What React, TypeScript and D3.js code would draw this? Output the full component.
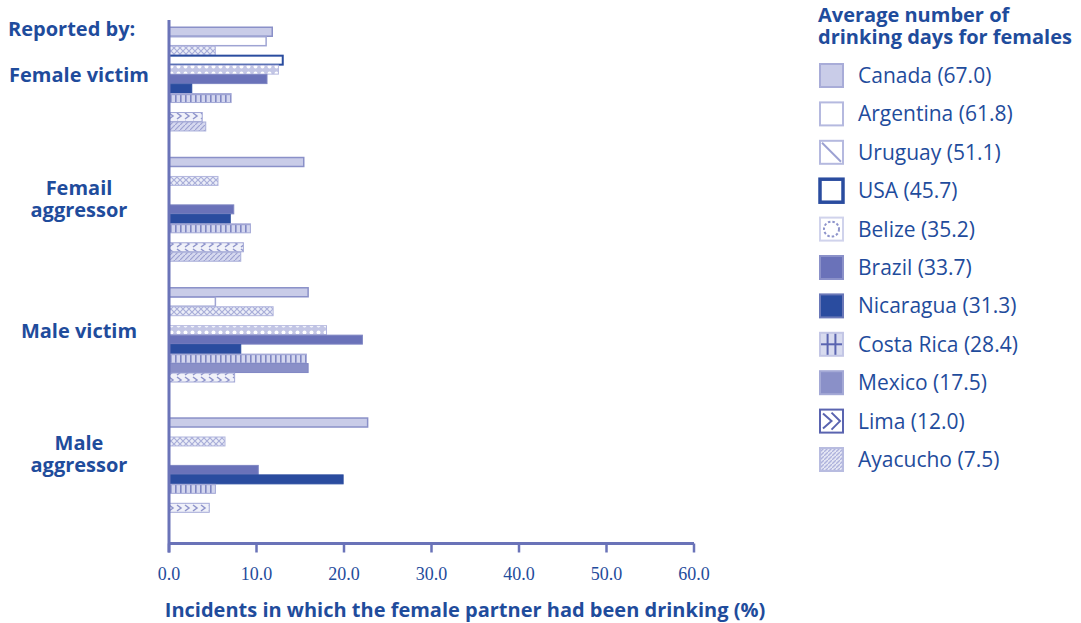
import React from "react";
import * as d3 from "d3";

const countries = ["Canada", "Argentina", "Uruguay", "USA", "Belize", "Brazil", "Nicaragua", "Costa Rica", "Mexico", "Lima", "Ayacucho"];
const avgDays = [67.0, 61.8, 51.1, 45.7, 35.2, 33.7, 31.3, 28.4, 17.5, 12.0, 7.5];
const groups = ["Female victim", "Femail aggressor", "Male victim", "Male aggressor"];
const groupLines = [["Female victim"], ["Femail", "aggressor"], ["Male victim"], ["Male", "aggressor"]];
// values per country, in group order (0 = no bar)
const canada = [11.8, 15.4, 15.9, 22.7];
const argentina = [11.1, 0, 5.3, 0];
const uruguay = [5.3, 5.6, 11.9, 6.4];
const usa = [13.0, 0, 0, 0];
const belize = [12.5, 0, 18.0, 0];
const brazil = [11.2, 7.4, 22.1, 10.2];
const nicaragua = [2.6, 7.0, 8.2, 19.9];
const costaRica = [7.1, 9.3, 15.7, 5.3];
const mexico = [0, 0, 15.9, 0];
const lima = [3.8, 8.5, 7.5, 4.6];
const ayacucho = [4.2, 8.2, 0, 0];
const seriesValues = [canada, argentina, uruguay, usa, belize, brazil, nicaragua, costaRica, mexico, lima, ayacucho];
const xTicks = [0, 10, 20, 30, 40, 50, 60];

const TEXT = "#1f4c9c";
const AXIS = "#6a73b8";
const FONT = "'Open Sans', 'Noto Sans', sans-serif";
// vertical label centres (layout)
const labelCenters = [75, 199, 331, 454];

const barStyle: Record<string, { fill: string; stroke: string; sw: number }> = {
  Canada: { fill: "#c9cce8", stroke: "#8a90c8", sw: 1.5 },
  Argentina: { fill: "#ffffff", stroke: "#9fa4d3", sw: 1.5 },
  Uruguay: { fill: "url(#pUruguay)", stroke: "#b3b7de", sw: 1 },
  USA: { fill: "#ffffff", stroke: "#2a4c9f", sw: 2 },
  Belize: { fill: "url(#pBelize)", stroke: "#b3b7de", sw: 1 },
  Brazil: { fill: "#6a72b9", stroke: "#7e85c3", sw: 1 },
  Nicaragua: { fill: "#2a4c9f", stroke: "#2a4c9f", sw: 1 },
  "Costa Rica": { fill: "url(#pCosta)", stroke: "#a3a8d6", sw: 1 },
  Mexico: { fill: "#8a90c8", stroke: "#8087c4", sw: 1 },
  Lima: { fill: "url(#pLima)", stroke: "#a3a8d6", sw: 1 },
  Ayacucho: { fill: "url(#pAya)", stroke: "#a9aed9", sw: 1 },
};

function Swatch({ name, x, y, s }: { name: string; x: number; y: number; s: number }) {
  const light = "#b5b9df";
  const mid = "#5a64b0";
  const base = (fill: string, stroke: string, sw: number) => (
    <rect x={x} y={y} width={s} height={s} fill={fill} stroke={stroke} strokeWidth={sw} />
  );
  switch (name) {
    case "Canada":
      return base("#c9cce8", "#a8acd8", 2);
    case "Argentina":
      return base("#ffffff", light, 2);
    case "Uruguay":
      return (
        <g>
          {base("#ffffff", light, 2)}
          <line x1={x + 2} y1={y + 2} x2={x + s - 2} y2={y + s - 2} stroke="#9ca1d2" strokeWidth={2} />
        </g>
      );
    case "USA":
      return base("#ffffff", "#2a4c9f", 3.5);
    case "Belize":
      return (
        <g>
          {base("#ffffff", "#d0d3ec", 2)}
          <circle cx={x + s / 2} cy={y + s / 2} r={s / 2 - 4} fill="none" stroke="#8e94cb" strokeWidth={2} strokeDasharray="2.5 2" />
        </g>
      );
    case "Brazil":
      return base("#6a72b9", "#8b91c9", 2);
    case "Nicaragua":
      return base("#2a4c9f", "#6a78b8", 2);
    case "Costa Rica":
      return (
        <g>
          {base("#d8dbef", "#c3c6e5", 2)}
          <line x1={x + s * 0.33} y1={y + 1} x2={x + s * 0.33} y2={y + s - 1} stroke={mid} strokeWidth={2} />
          <line x1={x + s * 0.67} y1={y + 1} x2={x + s * 0.67} y2={y + s - 1} stroke={mid} strokeWidth={2} />
          <line x1={x + 1} y1={y + s / 2} x2={x + s - 1} y2={y + s / 2} stroke={mid} strokeWidth={2} />
        </g>
      );
    case "Mexico":
      return base("#8a90c8", "#a4a9d6", 2);
    case "Lima":
      return (
        <g>
          {base("#ffffff", mid, 2)}
          <polyline points={`${x + 3},${y + 4} ${x + s / 2},${y + s / 2} ${x + 3},${y + s - 4}`} fill="none" stroke={mid} strokeWidth={2} />
          <polyline points={`${x + s / 2},${y + 3} ${x + s - 3},${y + s / 2} ${x + s / 2},${y + s - 3}`} fill="none" stroke={mid} strokeWidth={2} />
        </g>
      );
    case "Ayacucho":
      return base("url(#pAyaL)", "#b8bce0", 2);
    default:
      return null;
  }
}

export default function App() {
  const width = 1081;
  const height = 623;
  const x = d3.scaleLinear().domain([0, 60]).range([169, 694]);
  const gy = d3.scaleBand<string>().domain(groups).range([27, 522]).paddingInner(0.2);
  const iy = d3.scaleBand<string>().domain(countries).range([0, gy.bandwidth()]).padding(0);
  const fmt = d3.format(".1f");
  const axisTop = 20;
  const axisY = 543.5;
  const legendY = d3.scaleLinear().domain([0, countries.length - 1]).range([76, 460]);

  return (
    <svg width={width} height={height} style={{ position: "absolute", left: 0, top: 0, background: "#fff" }}>
      <defs>
        <pattern id="pUruguay" width={6} height={6} patternUnits="userSpaceOnUse">
          <rect width={6} height={6} fill="#eceef8" />
          <path d="M0,0 L6,6 M6,0 L0,6" stroke="#a9aed9" strokeWidth={1.2} />
        </pattern>
        <pattern id="pBelize" width={7} height={7} patternUnits="userSpaceOnUse">
          <rect width={7} height={7} fill="#c3c6e5" />
          <circle cx={3.5} cy={3.5} r={2} fill="#ffffff" />
        </pattern>
        <pattern id="pCosta" width={5} height={10} patternUnits="userSpaceOnUse">
          <rect width={5} height={10} fill="#d3d6ee" />
          <rect x={0} y={0} width={1.6} height={10} fill="#7f86c3" />
          <rect x={0} y={4} width={5} height={1.2} fill="#9ea3d3" />
        </pattern>
        <pattern id="pLima" width={8} height={8} patternUnits="userSpaceOnUse">
          <rect width={8} height={8} fill="#f0f1f9" />
          <path d="M1,1 L5,4 L1,7" fill="none" stroke="#8e94cb" strokeWidth={1.5} />
        </pattern>
        <pattern id="pAya" width={5} height={5} patternUnits="userSpaceOnUse">
          <rect width={5} height={5} fill="#d6d9ef" />
          <path d="M0,5 L5,0" stroke="#9ca1d2" strokeWidth={1.2} />
        </pattern>
        <pattern id="pAyaL" width={4} height={4} patternUnits="userSpaceOnUse">
          <rect width={4} height={4} fill="#e4e6f4" />
          <path d="M0,4 L4,0" stroke="#aeb2dc" strokeWidth={1.3} />
        </pattern>
      </defs>

      {/* bars */}
      {groups.map((g, gi) => (
        <g key={g}>
          {countries.map((c, ci) => {
            const v = seriesValues[ci][gi];
            if (!v) return null;
            const st = barStyle[c];
            const y0 = (gy(g) as number) + (iy(c) as number);
            const h = iy.bandwidth();
            return (
              <rect
                key={c}
                x={x(0)}
                y={y0 + 0.25}
                width={x(v) - x(0)}
                height={h - 0.5}
                fill={st.fill}
                stroke={st.stroke}
                strokeWidth={st.sw}
              />
            );
          })}
        </g>
      ))}

      {/* axes */}
      <line x1={x(0)} y1={axisTop} x2={x(0)} y2={axisY + 9} stroke={AXIS} strokeWidth={3} />
      <line x1={x(0)} y1={axisY} x2={x(60)} y2={axisY} stroke={AXIS} strokeWidth={3} />
      {xTicks.map((t) => (
        <g key={t}>
          <line x1={x(t)} y1={axisY} x2={x(t)} y2={axisY + 9} stroke={AXIS} strokeWidth={2.5} />
          <text x={x(t)} y={580} textAnchor="middle" fontFamily="'Liberation Serif', serif" fontSize={18} fill={TEXT}>
            {fmt(t)}
          </text>
        </g>
      ))}
      <text x={465} y={617} textAnchor="middle" fontFamily={FONT} fontWeight="bold" fontSize={20} fill={TEXT}>
        Incidents in which the female partner had been drinking (%)
      </text>

      {/* left labels */}
      <text x={8} y={36} fontFamily={FONT} fontWeight="bold" fontSize={20} fill={TEXT}>
        Reported by:
      </text>
      {groups.map((g, gi) => {
        const lines = groupLines[gi];
        const cy = labelCenters[gi];
        return (
          <text key={g} textAnchor="middle" fontFamily={FONT} fontWeight="bold" fontSize={20} fill={TEXT}>
            {lines.map((l, li) => (
              <tspan key={l} x={79} y={cy + 7 + (li - (lines.length - 1) / 2) * 22}>
                {l}
              </tspan>
            ))}
          </text>
        );
      })}

      {/* legend */}
      <text fontFamily={FONT} fontWeight="bold" fontSize={20} fill={TEXT}>
        <tspan x={818} y={22}>Average number of</tspan>
        <tspan x={818} y={44}>drinking days for females</tspan>
      </text>
      {countries.map((c, i) => {
        const cy = legendY(i);
        return (
          <g key={c}>
            <Swatch name={c} x={820} y={cy - 12} s={23} />
            <text x={858} y={cy + 7} fontFamily={FONT} fontSize={21} fill={TEXT}>
              {`${c} (${avgDays[i].toFixed(1)})`}
            </text>
          </g>
        );
      })}
    </svg>
  );
}
